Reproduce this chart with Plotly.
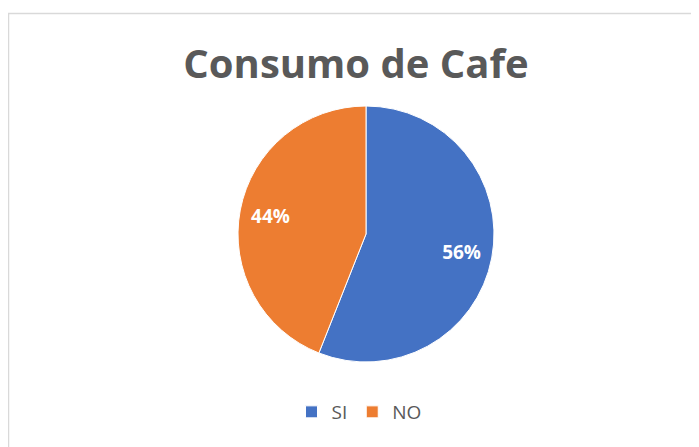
import plotly.graph_objects as go

labels = ["SI", "NO"]
values = [56, 44]
colors = ["#4472C4", "#ED7D31"]

W, H = 699, 447
OFF = 8  # page body margin


def px_x(x):
    return (x - OFF) / W


def px_y(y):
    return 1 - (y - OFF) / H


pie_domain = dict(x=[px_x(238), px_x(494)], y=[px_y(362), px_y(106)])

fig = go.Figure()
# filled pie
fig.add_trace(
    go.Pie(
        labels=labels,
        values=values,
        marker=dict(colors=colors, line=dict(color="white", width=1)),
        sort=False,
        direction="clockwise",
        rotation=0,
        textinfo="none",
        hoverinfo="label+percent",
        domain=pie_domain,
    )
)
# transparent ring carrying the percentage labels further out, like Excel
fig.add_trace(
    go.Pie(
        labels=labels,
        values=values,
        hole=0.52,
        marker=dict(colors=["rgba(0,0,0,0)"] * 2, line=dict(width=0)),
        sort=False,
        direction="clockwise",
        rotation=0,
        textinfo="percent",
        textposition="inside",
        insidetextorientation="horizontal",
        textfont=dict(family="Open Sans", size=19, color="white", weight="bold"),
        hoverinfo="skip",
        showlegend=False,
        domain=pie_domain,
    )
)

fig.update_layout(
    width=W,
    height=H,
    margin=dict(l=0, r=0, t=0, b=0),
    paper_bgcolor="white",
    plot_bgcolor="white",
    title=dict(
        text="<b>Consumo de Cafe</b>",
        font=dict(family="Open Sans", size=40, color="#595959"),
        x=px_x(356),
        xanchor="center",
        y=px_y(64),
        yanchor="middle",
    ),
    legend=dict(
        orientation="h",
        x=px_x(359),
        xanchor="center",
        y=px_y(412),
        yanchor="middle",
        itemwidth=30,
        font=dict(family="Open Sans", size=19, color="#595959"),
    ),
    shapes=[
        dict(
            type="rect",
            xref="paper",
            yref="paper",
            x0=px_x(8.5),
            x1=px_x(698),
            y0=-0.05,
            y1=px_y(13.5),
            line=dict(color="#D9D9D9", width=1.5),
            fillcolor="rgba(0,0,0,0)",
            layer="below",
        )
    ],
)

fig.write_html("out.html")
